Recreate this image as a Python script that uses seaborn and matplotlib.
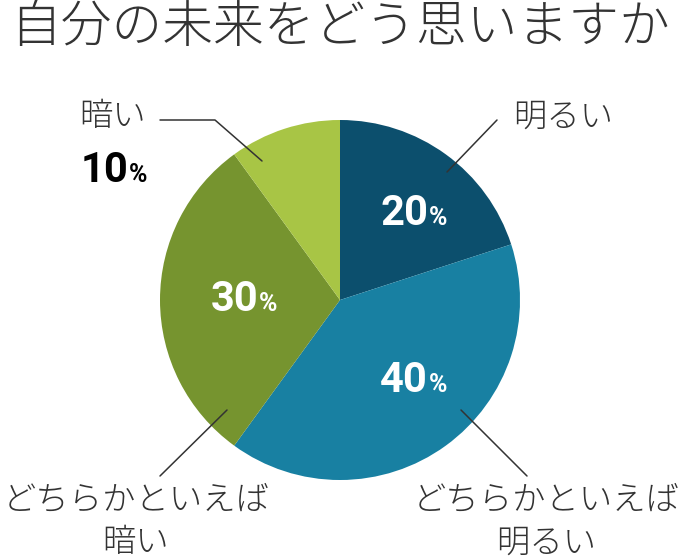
import matplotlib
matplotlib.use("Agg")
import matplotlib.pyplot as plt
import seaborn as sns

# data
labels = ["明るい", "どちらかといえば\n明るい", "どちらかといえば\n暗い", "暗い"]
values = [20, 40, 30, 10]
colors = ["#0c4f6d", "#1880a2", "#76942f", "#a8c545"]

sns.set_theme(style="white")
plt.rcParams["font.family"] = ["Noto Sans CJK JP", "DejaVu Sans"]

fig = plt.figure(figsize=(6.8, 5.6), dpi=100)
ax = fig.add_axes([0, 0, 1, 1])

# y axis is flipped, so counterclock in data = clockwise on screen
ax.pie(values, colors=sns.color_palette(colors), startangle=-90, counterclock=True,
       center=(340, 300), radius=180, wedgeprops=dict(linewidth=0), frame=True)
ax.set_xlim(0, 680)
ax.set_ylim(560, 0)
ax.set_aspect("equal")
ax.axis("off")

txt = "#333333"
ax.text(340, 27, "自分の未来をどう思いますか", fontsize=36.5, color=txt,
        ha="center", va="center", fontweight="light")

# leader lines
lc = dict(color="#333333", lw=1.1)
ax.plot([447, 497], [172, 120], **lc)
ax.plot([160, 215, 262], [120, 120, 161], **lc)
ax.plot([227, 160], [410, 476], **lc)
ax.plot([461, 527], [410, 476], **lc)

# category labels
lab_pos = [(563, 117), (546, 522), (136, 522), (113, 117)]
for lab, (x, y) in zip(labels, lab_pos):
    ax.text(x, y, lab, fontsize=24, color=txt, ha="center", va="center",
            linespacing=1.3, fontweight="light")

# percentages
pct_pos = [(428, 225), (428, 392), (258, 311), (128, 182)]
pct_col = ["white", "white", "white", "black"]
for v, (x, y), c in zip(values, pct_pos, pct_col):
    ax.text(x, y, str(v), fontsize=30, family="Roboto", fontweight="bold",
            color=c, ha="right", va="baseline")
    ax.text(x + 1, y, "%", fontsize=18, family="Roboto", fontweight="bold",
            color=c, ha="left", va="baseline")

fig.savefig("out.png", dpi=100)
